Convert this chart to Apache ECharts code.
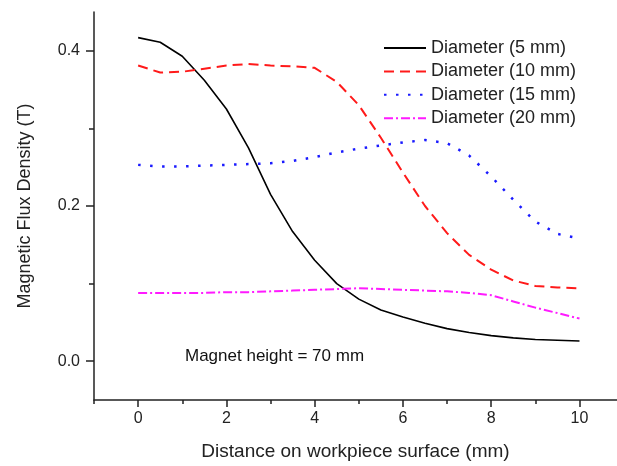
<!DOCTYPE html>
<html>
<head>
<meta charset="utf-8">
<script src="https://cdn.jsdelivr.net/npm/echarts@6/dist/echarts.min.js"></script>
<style>
  html, body { margin: 0; padding: 0; background: #fff; }
  #chart { width: 617px; height: 466px; }
</style>
</head>
<body>
<div id="chart"></div>
<script>
// distance on workpiece surface (mm)
const xValues = [0, 0.5, 1, 1.5, 2, 2.5, 3, 3.5, 4, 4.5, 5, 5.5, 6, 6.5, 7, 7.5, 8, 8.5, 9, 9.5, 10];

// magnetic flux density (T), one array per magnet diameter
const d5 = [0.417, 0.411, 0.393, 0.362, 0.325, 0.275, 0.215, 0.167, 0.130, 0.100, 0.080,
  0.066, 0.057, 0.049, 0.042, 0.037, 0.033, 0.030, 0.028, 0.027, 0.026];
const d10 = [0.381, 0.372, 0.373, 0.377, 0.381, 0.383, 0.381, 0.380, 0.378, 0.360, 0.330,
  0.288, 0.243, 0.200, 0.165, 0.137, 0.118, 0.104, 0.097, 0.095, 0.094];
const d15 = [0.253, 0.251, 0.251, 0.252, 0.253, 0.254, 0.255, 0.258, 0.263, 0.269, 0.274,
  0.278, 0.282, 0.285, 0.281, 0.265, 0.238, 0.208, 0.180, 0.164, 0.158];
const d20 = [0.088, 0.088, 0.088, 0.088, 0.089, 0.089, 0.090, 0.091, 0.092, 0.093, 0.094,
  0.093, 0.092, 0.091, 0.090, 0.088, 0.085, 0.077, 0.069, 0.062, 0.055];

const seriesNames = ['Diameter (5 mm)', 'Diameter (10 mm)', 'Diameter (15 mm)', 'Diameter (20 mm)'];

const xMajorTicks = [0, 2, 4, 6, 8, 10];
const xMinorTicks = [-1, 1, 3, 5, 7, 9];
const yMajorTicks = [0, 0.2, 0.4];
const yMinorTicks = [0.1, 0.3];

const FONT = 'Liberation Sans, Arial, sans-serif';
const AXIS_COLOR = '#222';

function pairs(ys) {
  return xValues.map((x, i) => [x, ys[i]]);
}

const chart = echarts.init(document.getElementById('chart'));

const xRange = { min: -1, max: 10.85 };
const yRange = { min: -0.05, max: 0.45 };

const option = {
  animation: false,
  grid: { left: 94, right: 0, top: 12, bottom: 61 },
  legend: {
    orient: 'vertical',
    left: 383,
    top: 39,
    padding: 0,
    itemWidth: 42,
    itemHeight: 14,
    itemGap: 5.4,
    itemStyle: { opacity: 0 },
    textStyle: { fontFamily: FONT, fontSize: 18, color: '#222' },
    data: seriesNames
  },
  xAxis: [
    {
      type: 'value',
      ...xRange,
      name: 'Distance on workpiece surface (mm)',
      nameLocation: 'middle',
      nameGap: 42,
      nameTextStyle: { fontFamily: FONT, fontSize: 19, color: '#222' },
      axisLine: { show: true, onZero: false, lineStyle: { color: AXIS_COLOR, width: 1.5 } },
      axisTick: { show: true, customValues: xMajorTicks, length: 7, lineStyle: { color: AXIS_COLOR, width: 1.5 } },
      axisLabel: { customValues: xMajorTicks, margin: 11, fontFamily: FONT, fontSize: 16, color: '#222' },
      splitLine: { show: false }
    },
    {
      type: 'value',
      ...xRange,
      position: 'bottom',
      axisLine: { show: false, onZero: false },
      axisTick: { show: true, customValues: xMinorTicks, length: 4, lineStyle: { color: AXIS_COLOR, width: 1.5 } },
      axisLabel: { show: false },
      splitLine: { show: false }
    }
  ],
  yAxis: [
    {
      type: 'value',
      ...yRange,
      name: 'Magnetic Flux Density (T)',
      nameLocation: 'middle',
      nameGap: 60,
      nameTextStyle: { fontFamily: FONT, fontSize: 18, color: '#222' },
      axisLine: { show: true, onZero: false, lineStyle: { color: AXIS_COLOR, width: 1.5 } },
      axisTick: { show: true, customValues: yMajorTicks, length: 8, lineStyle: { color: AXIS_COLOR, width: 1.5 } },
      axisLabel: {
        customValues: yMajorTicks,
        margin: 14,
        fontFamily: FONT,
        fontSize: 16,
        color: '#222',
        formatter: v => v.toFixed(1)
      },
      splitLine: { show: false }
    },
    {
      type: 'value',
      ...yRange,
      position: 'left',
      axisLine: { show: false, onZero: false },
      axisTick: { show: true, customValues: yMinorTicks, length: 5, lineStyle: { color: AXIS_COLOR, width: 1.5 } },
      axisLabel: { show: false },
      splitLine: { show: false }
    }
  ],
  graphic: [
    {
      type: 'text',
      left: 185,
      top: 348,
      style: { text: 'Magnet height = 70 mm', font: '17px ' + FONT, fill: '#111' }
    }
  ],
  series: [
    {
      name: seriesNames[0], type: 'line', data: pairs(d5), symbol: 'none',
      lineStyle: { color: '#000', width: 1.6, type: 'solid' }, itemStyle: { color: '#000' }
    },
    {
      name: seriesNames[1], type: 'line', data: pairs(d10), symbol: 'none',
      lineStyle: { color: '#ff1a1a', width: 2, type: [10, 6] }, itemStyle: { color: '#ff1a1a' }
    },
    {
      name: seriesNames[2], type: 'line', data: pairs(d15), symbol: 'none',
      lineStyle: { color: '#1a1aff', width: 2.5, type: [2.5, 9.5] }, itemStyle: { color: '#1a1aff' }
    },
    {
      name: seriesNames[3], type: 'line', data: pairs(d20), symbol: 'none',
      lineStyle: { color: '#ff1aff', width: 2, type: [9, 3, 2, 3] }, itemStyle: { color: '#ff1aff' }
    }
  ]
};

chart.setOption(option);
</script>
</body>
</html>
